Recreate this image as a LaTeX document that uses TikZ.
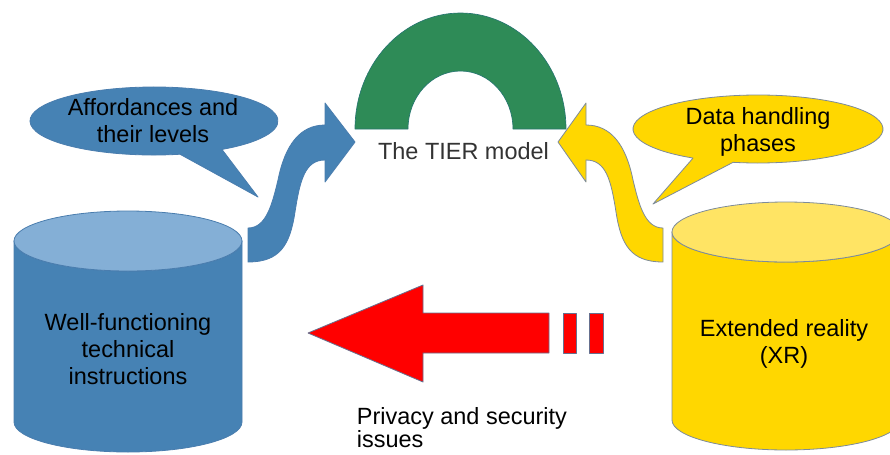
\documentclass[tikz,border=0pt]{standalone}
\usepackage{fontspec}
\setmainfont{Liberation Sans}
\definecolor{steel}{HTML}{4682B4}
\definecolor{steeltop}{HTML}{84AFD6}
\definecolor{steeledge}{HTML}{4A7DAE}
\definecolor{gold}{HTML}{FFD700}
\definecolor{goldtop}{HTML}{FFE464}
\definecolor{goldedge}{HTML}{7D8B9A}
\definecolor{archgreen}{HTML}{2E8B57}
\definecolor{redfill}{HTML}{FF0000}
\definecolor{rededge}{HTML}{66708F}
\definecolor{darktext}{HTML}{333333}
\tikzset{
  txt/.style={font=\fontsize{17.6}{20.25}\selectfont, align=center, inner sep=0pt, text=black},
  bluepart/.style={fill=steel, draw=steeledge, line width=0.6pt},
  goldpart/.style={fill=gold, draw=goldedge, line width=0.6pt},
  redpart/.style={fill=redfill, draw=rededge, line width=0.6pt},
}
\begin{document}
\begin{tikzpicture}[x=0.75pt, y=-0.75pt, line join=round]
\useasboundingbox (0,0) rectangle (890,454);
\clip (0,0) rectangle (890,454);

% ---- the arch of the TIER model
\path[fill=archgreen, draw=archgreen!85!blue, line width=0.5pt]
  (355,129) arc[start angle=180, end angle=360, x radius=105.5, y radius=116]
  -- (513,129) arc[start angle=0, end angle=-180, x radius=52.5, y radius=58]
  -- cycle;

% ---- left cylinder
\path[bluepart] (14,241) -- (14,422)
  arc[start angle=180, end angle=0, x radius=114, y radius=30]
  -- (242,241)
  arc[start angle=0, end angle=180, x radius=114, y radius=30] -- cycle;
\path[fill=steeltop, draw=steeledge, line width=0.6pt] (128,241) ellipse[x radius=114, y radius=30];

% ---- right cylinder
\path[goldpart] (672,232) -- (672,420)
  arc[start angle=180, end angle=0, x radius=114, y radius=30]
  -- (900,232)
  arc[start angle=0, end angle=180, x radius=114, y radius=30] -- cycle;
\path[fill=goldtop, draw=goldedge, line width=0.6pt] (786,232) ellipse[x radius=114, y radius=30];

% ---- S-shaped arrows towards the arch
\path[bluepart] (248,228) .. controls (266,228) and (272,205) .. (278,180)
  .. controls (285,145) and (300,125) .. (325,125)
  -- (325,103) -- (355,142) -- (325,182) -- (325,160)
  .. controls (305,160) and (300,180) .. (295,212)
  .. controls (290,245) and (280,262) .. (248,262) -- cycle;
\path[goldpart] (663,228) .. controls (645,228) and (639,205) .. (633,180)
  .. controls (626,145) and (611,125) .. (586,125)
  -- (586,103) -- (558,142) -- (586,182) -- (586,160)
  .. controls (606,160) and (611,180) .. (616,212)
  .. controls (621,245) and (631,262) .. (663,262) -- cycle;

% ---- red arrow with its broken tail
\path[redpart] (308,333) -- (423,285) -- (423,313) -- (549,313)
  -- (549,353) -- (423,353) -- (423,382) -- cycle;
\path[redpart] (563,313) rectangle (576,353);
\path[redpart] (589,313) rectangle (603,353);

% ---- speech bubbles
\path[bluepart] (154,121) ++(77.9:124 and 34)
  arc[start angle=77.9, end angle=416.75, x radius=124, y radius=34]
  -- (258,197) -- cycle;
\path[goldpart] (758,129) ++(121.3:125 and 34)
  arc[start angle=121.3, end angle=461.5, x radius=125, y radius=34]
  -- (653,204) -- cycle;

% ---- texts
\node[txt, text=darktext] (tier) at (463.5,151) {The TIER model};
\node[txt] (afford) at (153,121) {Affordances and\\their levels};
\node[txt] (phases) at (758,132) {Data handling\\phases};
\node[txt] (instr) at (128,349.5) {Well-functioning\\technical\\instructions};
\node[txt] (xr) at (784,343.5) {Extended reality\\(XR)};
\node[txt, align=left, anchor=west, font=\fontsize{17.6}{17.25}\selectfont] (privacy) at (356.7,428) {Privacy and security\\issues};
\end{tikzpicture}
\end{document}
